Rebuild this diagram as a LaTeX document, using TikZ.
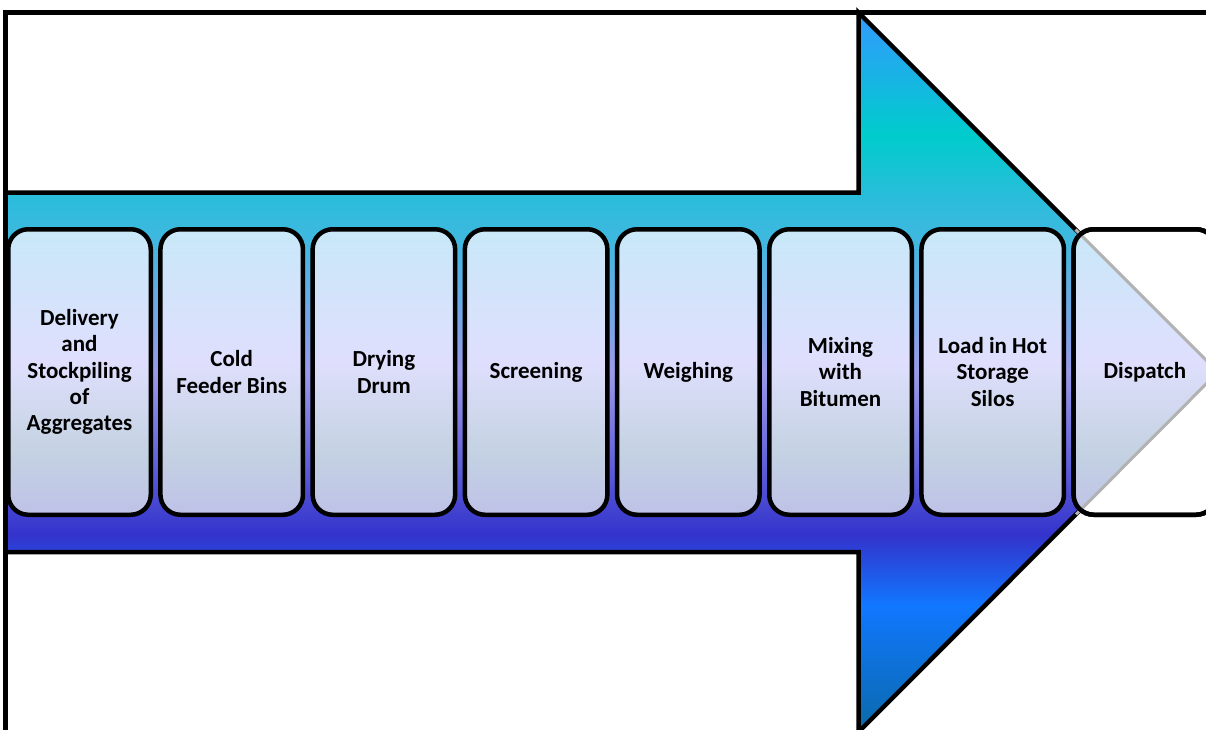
\documentclass[tikz,border=0pt]{standalone}
\usepackage{fontspec}
\setmainfont{Carlito}
\usetikzlibrary{positioning}

% colours of the big arrow
\definecolor{arrowA}{HTML}{3399FF}
\definecolor{arrowB}{HTML}{00CCCC}
\definecolor{arrowC}{HTML}{2BBCDB}
\definecolor{arrowD}{HTML}{40B8E0}
\definecolor{arrowE}{HTML}{9A9AEA}
\definecolor{arrowF}{HTML}{3333CC}
\definecolor{arrowG}{HTML}{1177FF}
\definecolor{arrowH}{HTML}{0A6AAA}
% colours of the step boxes
\definecolor{boxtop}{HTML}{C8E8F8}
\definecolor{boxmid}{HTML}{DFDFFD}
\definecolor{boxlow}{HTML}{C4D2E2}
\definecolor{boxbot}{HTML}{BEC2E8}

\pgfdeclareverticalshading{arrowshade}{100bp}{color(0bp)=(arrowH); color(25bp)=(arrowH);
  color(33.8bp)=(arrowG); color(38.7bp)=(arrowF); color(50bp)=(arrowE);
  color(59.2bp)=(arrowD); color(62bp)=(arrowC); color(66.5bp)=(arrowB);
  color(75bp)=(arrowA); color(100bp)=(arrowA)}
\pgfdeclareverticalshading{boxshade}{100bp}{color(0bp)=(boxbot); color(25bp)=(boxbot);
  color(36bp)=(boxlow); color(52bp)=(boxmid); color(75bp)=(boxtop); color(100bp)=(boxtop)}

\tikzset{
  stepbox/.style={draw=black, line width=4.5pt, rounded corners=20pt,
    minimum width=142.5pt, minimum height=285.5pt, outer sep=0pt, inner sep=0pt,
    align=center, text=black, font=\fontsize{23pt}{26.2pt}\selectfont\bfseries},
  stepfill/.style={shade, shading=boxshade},
  outline/.style={draw=black, line width=4.5pt}
}

\begin{document}
\begin{tikzpicture}[x=1pt,y=-1pt]
    \clip (0,0) rectangle (1206,729);

    % Frame round the arrow
    \draw[outline] (5.5,12.5) rectangle (1218,732);

    % Arrow
    \coordinate (headtop) at (858.5,12.5);
    \coordinate (headbot) at (858.5,732);
    \coordinate (tip) at (1218,372);
    \path[outline, shade, shading=arrowshade]
      (5.5,192.5) -- (858.5,192.5) -- (headtop) -- (tip) -- (headbot)
      -- (858.5,552) -- (5.5,552) -- cycle;

    % Steps
    \node[stepbox, stepfill] (box1) at (79.5,372) {Delivery\\and\\Stockpiling\\of\\Aggregates};
    \node[stepbox, stepfill, right=9.7pt of box1] (box2) {Cold\\Feeder Bins};
    \node[stepbox, stepfill, right=9.7pt of box2] (box3) {Drying\\Drum};
    \node[stepbox, stepfill, right=9.7pt of box3] (box4) {Screening};
    \node[stepbox, stepfill, right=9.7pt of box4] (box5) {Weighing};
    \node[stepbox, stepfill, right=9.7pt of box5] (box6) {Mixing\\with\\Bitumen};
    \node[stepbox, stepfill, right=9.7pt of box6] (box7) {Load in Hot\\Storage\\Silos};
    \node[stepbox, fill=white, right=9.7pt of box7] (box8) {};

    % Tip of the arrow seen through the last box
    \begin{scope}
      \clip[rounded corners=20pt] (box8.north west) rectangle (box8.south east);
      \shade[shading=boxshade] (box8.north west) -- (1075.5,229.5) -- (tip)
        -- (1076,514.5) -- (box8.south west) -- cycle;
    \end{scope}
    \draw[black!30, line width=3pt] (1075.5,229.5) -- (tip) -- (1076,514.5);
    \node[stepbox] (dispatch) at (box8) {Dispatch};
  \end{tikzpicture}
\end{document}
